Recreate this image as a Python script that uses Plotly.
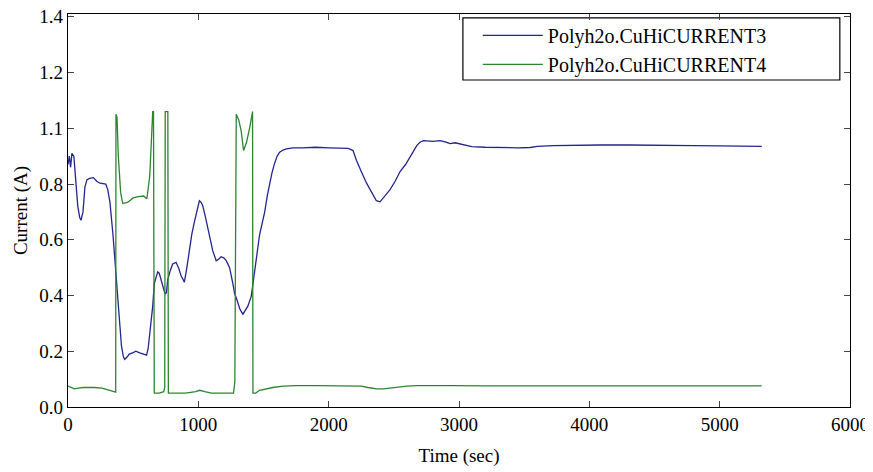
import plotly.graph_objects as go

# ---- data ----
t3 = [0, 10, 20, 30, 45, 60, 75, 90, 100, 115,
      130, 145, 165, 195, 220, 245, 270, 290, 305, 322,
      345, 368, 381, 394, 410, 425, 435, 455, 470, 500,
      521, 545, 572, 590, 603, 615, 624, 638, 650, 662,
      675, 688, 700, 713, 728, 745, 755, 765, 785, 803,
      829, 848, 867, 893, 912, 931, 950, 970, 990, 1008,
      1020, 1034, 1055, 1073, 1090, 1111, 1137, 1155, 1175, 1195,
      1214, 1240, 1265, 1278, 1292, 1304, 1320, 1342, 1360, 1380,
      1406, 1419, 1444, 1470, 1490, 1509, 1530, 1547, 1565, 1585,
      1605, 1624, 1650, 1675, 1726, 1800, 1900, 2000, 2100, 2150,
      2187, 2213, 2250, 2290, 2330, 2366, 2394, 2420, 2471, 2510,
      2548, 2590, 2625, 2650, 2676, 2700, 2727, 2800, 2855, 2900,
      2932, 2970, 3009, 3050, 3098, 3200, 3328, 3450, 3546, 3600,
      3724, 3900, 4082, 4300, 4466, 4620, 4800, 5000, 5200, 5323]
current3 = [0.87, 0.90, 0.86, 0.91, 0.90, 0.80, 0.72, 0.68, 0.67, 0.70,
            0.79, 0.815, 0.82, 0.823, 0.81, 0.803, 0.80, 0.80, 0.78, 0.734,
            0.618, 0.478, 0.385, 0.293, 0.22, 0.18, 0.171, 0.18, 0.19, 0.195,
            0.20, 0.195, 0.19, 0.186, 0.186, 0.21, 0.245, 0.30, 0.362, 0.443,
            0.47, 0.485, 0.48, 0.456, 0.43, 0.405, 0.41, 0.456, 0.49, 0.513,
            0.519, 0.50, 0.472, 0.448, 0.50, 0.56, 0.62, 0.664, 0.71, 0.74,
            0.735, 0.722, 0.68, 0.642, 0.60, 0.56, 0.525, 0.53, 0.539, 0.535,
            0.525, 0.50, 0.443, 0.408, 0.39, 0.373, 0.35, 0.333, 0.345, 0.362,
            0.397, 0.443, 0.525, 0.618, 0.66, 0.699, 0.76, 0.804, 0.84, 0.874,
            0.90, 0.914, 0.922, 0.926, 0.93, 0.93, 0.932, 0.93, 0.93, 0.928,
            0.92, 0.885, 0.845, 0.804, 0.77, 0.74, 0.736, 0.75, 0.78, 0.81,
            0.845, 0.87, 0.897, 0.92, 0.938, 0.95, 0.956, 0.953, 0.956, 0.95,
            0.945, 0.948, 0.943, 0.938, 0.934, 0.932, 0.93, 0.93, 0.931, 0.935,
            0.938, 0.94, 0.94, 0.94, 0.94, 0.938, 0.938, 0.937, 0.937, 0.935]

t4 = [0, 30, 50, 80, 120, 200, 260, 320, 360, 366,
      368, 376, 386, 404, 420, 460, 500, 540, 580, 605,
      627, 643, 650, 656, 662, 700, 735, 742, 746, 766,
      770, 800, 900, 980, 1010, 1050, 1100, 1200, 1270, 1280,
      1291, 1310, 1329, 1347, 1370, 1393, 1411, 1416, 1419, 1440,
      1470, 1520, 1573, 1650, 1750, 1900, 2100, 2250, 2300, 2370,
      2420, 2500, 2600, 2676, 2800, 2950, 3200, 4000, 5000, 5323]
current4 = [0.075, 0.07, 0.065, 0.068, 0.07, 0.07, 0.068, 0.06, 0.053, 0.053,
            1.05, 1.04, 0.90, 0.77, 0.73, 0.735, 0.75, 0.755, 0.757, 0.747,
            0.827, 0.99, 1.06, 1.06, 0.05, 0.05, 0.055, 0.07, 1.06, 1.06,
            0.05, 0.05, 0.05, 0.055, 0.06, 0.055, 0.05, 0.05, 0.05, 0.09,
            1.05, 1.03, 0.99, 0.92, 0.95, 1.0, 1.06, 1.06, 0.05, 0.05,
            0.06, 0.065, 0.07, 0.075, 0.077, 0.077, 0.077, 0.075, 0.07, 0.065,
            0.065, 0.07, 0.075, 0.077, 0.078, 0.077, 0.076, 0.076, 0.076, 0.076]

y_tickvals = [0.0, 0.2, 0.4, 0.6, 0.8, 1.0, 1.2, 1.4]
y_ticktext = ["0.0", "0.2", "0.4", "0.6", "0.8", "1.1", "1.2", "1.4"]
x_tickvals = [0, 1000, 2000, 3000, 4000, 5000, 6000]

FONT = "Liberation Serif"

fig = go.Figure()
fig.add_trace(go.Scatter(x=t3, y=current3, mode="lines", name="Polyh2o.CuHiCURRENT3",
                         line=dict(color="#24248f", width=1.3)))
fig.add_trace(go.Scatter(x=t4, y=current4, mode="lines", name="Polyh2o.CuHiCURRENT4",
                         line=dict(color="#2e8530", width=1.3)))

# the page body adds an 8px offset; plot area sits at x 68..850, y 14..407
fig.update_layout(
    width=865, height=464,
    margin=dict(l=60, r=23, t=6, b=65, autoexpand=False),
    paper_bgcolor="white", plot_bgcolor="white",
    font=dict(family=FONT, size=19, color="black"),
    showlegend=True,
    legend=dict(x=0.524, y=0.995, xanchor="left", yanchor="top",
                bgcolor="rgba(0,0,0,0)", borderwidth=0,
                font=dict(family=FONT, size=20, color="black"),
                itemwidth=60, tracegroupgap=0),
    shapes=[dict(type="rect", xref="paper", yref="paper",
                 x0=0.505, x1=0.987, y0=0.832, y1=0.99,
                 line=dict(color="black", width=1.2), fillcolor="rgba(0,0,0,0)", layer="below")],
)
fig.update_xaxes(range=[0, 6000], tickvals=x_tickvals, ticks="inside", ticklen=6,
                 showline=True, linecolor="black", linewidth=1.2, mirror="allticks",
                 showgrid=False, zeroline=False, automargin=False,
                 ticklabeloverflow="allow",
                 title=dict(text="Time (sec)", standoff=14, font=dict(family=FONT, size=19)),
                 tickfont=dict(family=FONT, size=19))
fig.update_yaxes(range=[0, 1.41], tickvals=y_tickvals, ticktext=y_ticktext,
                 ticks="inside", ticklen=6,
                 showline=True, linecolor="black", linewidth=1.2, mirror="allticks",
                 showgrid=False, zeroline=False, automargin=False,
                 ticklabeloverflow="allow",
                 title=dict(text="Current (A)", standoff=6, font=dict(family=FONT, size=19)),
                 tickfont=dict(family=FONT, size=19))

fig.write_html("out.html")
